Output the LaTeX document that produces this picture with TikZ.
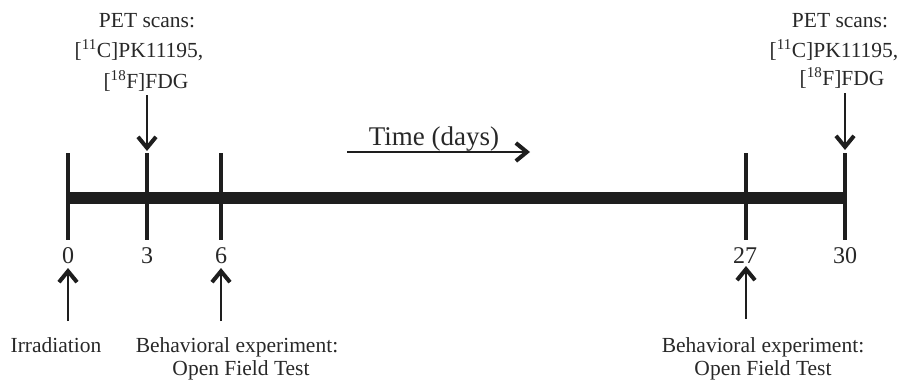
\documentclass[tikz,border=0pt]{standalone}
\usepackage{fontspec}
\setmainfont{Liberation Serif}
\usetikzlibrary{arrows.meta}
\definecolor{ink}{RGB}{30,30,30}
\definecolor{txt}{RGB}{40,40,40}
\begin{document}
\begin{tikzpicture}[x=1pt,y=-1pt,
  lbl/.style={anchor=base,inner sep=0pt,text=txt,font=\fontsize{21.5}{24}\selectfont},
  num/.style={anchor=base,inner sep=0pt,text=txt,font=\fontsize{24}{28}\selectfont},
  ttl/.style={anchor=base,inner sep=0pt,text=txt,font=\fontsize{27}{30}\selectfont},
  tickline/.style={draw=ink,line width=4pt},
  barline/.style={draw=ink,line width=12pt},
  arr/.style={draw=ink,line width=2pt,-{Straight Barb[length=11pt,width=18pt,line width=4pt]}}]
\path[use as bounding box] (0,0) rectangle (907,386);
% timeline
\coordinate (b0) at (68,197.5);
\coordinate (b30) at (845,197.5);
\draw[barline] (b0) -- (b30);
\foreach \n/\x in {0/68,3/147,6/221,27/746,30/845}{
  \coordinate (t\n top) at (\x,153);
  \coordinate (t\n bot) at (\x,240);
  \draw[tickline] (t\n top) -- (t\n bot);
}
% numbers
\node[num] (n0) at (68,263) {0};
\node[num] (n3) at (147,263) {3};
\node[num] (n6) at (221,263) {6};
\node[num] (n27) at (745,263) {27};
\node[num] (n30) at (845,263) {30};
% PET left
\node[lbl] (pl1) at (147,27) {PET scans:};
\node[lbl] (pl2) at (139,57.5) {[\textsuperscript{11}C]PK11195,};
\node[lbl] (pl3) at (146,88) {[\textsuperscript{18}F]FDG};
\coordinate (pla) at (147,95);
\coordinate (plb) at (147,151);
\draw[arr] (pla) -- (plb);
% PET right
\node[lbl] (pr1) at (840,27) {PET scans:};
\node[lbl] (pr2) at (834,57) {[\textsuperscript{11}C]PK11195,};
\node[lbl] (pr3) at (842,85.5) {[\textsuperscript{18}F]FDG};
\coordinate (pra) at (845,93);
\coordinate (prb) at (845,150);
\draw[arr] (pra) -- (prb);
% time
\node[ttl] (time) at (434,145) {Time (days)};
\coordinate (ta) at (347,152);
\coordinate (tb) at (530,152);
\draw[arr] (ta) -- (tb);
% bottom labels
\node[lbl] (irr) at (56,352) {Irradiation};
\node[lbl] (be1) at (237,352) {Behavioral experiment:};
\node[lbl] (be2) at (241,375) {Open Field Test};
\node[lbl] (br1) at (763,352) {Behavioral experiment:};
\node[lbl] (br2) at (763,375) {Open Field Test};
\coordinate (ia) at (68,321);
\coordinate (ib) at (68,268);
\draw[arr] (ia) -- (ib);
\coordinate (ea) at (221,321);
\coordinate (eb) at (221,268);
\draw[arr] (ea) -- (eb);
\coordinate (fa) at (746,319);
\coordinate (fb) at (746,266);
\draw[arr] (fa) -- (fb);
\end{tikzpicture}
\end{document}
